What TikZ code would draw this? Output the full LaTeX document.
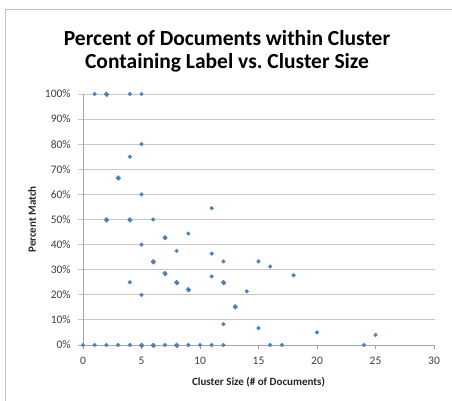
\documentclass[tikz,border=0pt]{standalone}
\usepackage{fontspec}
\setmainfont{Carlito}
\usetikzlibrary{shapes.geometric,shadows}
\definecolor{ptblue}{HTML}{4F81BD}
\definecolor{gridgray}{RGB}{200,200,200}
\definecolor{axisgray}{RGB}{165,165,165}
\definecolor{framegray}{RGB}{195,195,195}
\definecolor{labelgray}{RGB}{64,64,64}
\begin{document}
\begin{tikzpicture}[x=1pt,y=-1pt,
    dot/.style={diamond, fill=ptblue, inner sep=0pt, minimum size=4.6pt},
    dotm/.style={dot, minimum size=5pt, drop shadow={shadow xshift=0.3pt, shadow yshift=-0.7pt, fill=black!70, opacity=0.8}},
    ticklabel/.style={font=\fontsize{11.5}{13}\selectfont, text=labelgray, inner sep=1pt},
    axislabel/.style={font=\bfseries\fontsize{11}{13}\selectfont, text=black!85},
    charttitle/.style={font=\bfseries\fontsize{21.5}{23}\selectfont, align=center}]
  \useasboundingbox (0,0) rectangle (452,401);
  \fill[white] (0,0) rectangle (452,401);
  % Frame
  \draw[framegray, line width=1.3pt] (452,9.5) -- (5.5,9.5) -- (5.5,401);
  % Title and axis labels
  \node[charttitle] (title) at (227,51.5) {Percent of Documents within Cluster\\Containing Label vs.\ Cluster Size};
  \node[axislabel, rotate=90] (ylab) at (32,219.5) {Percent Match};
  \node[axislabel] (xlab) at (258.5,382) {Cluster Size (\# of Documents)};
  % Plot area
  \begin{scope}[shift={(83,345)}, x=11.7pt, y=2.51pt]
    \foreach \p in {10,20,...,100}
      \draw[gridgray, line width=1pt] (-0.43,\p) -- (30.1,\p);
    \foreach \p in {0,10,...,100}
      \node[ticklabel, anchor=east] (ytick\p) at (-0.95,\p) {\p\%};
    \draw[axisgray, line width=0.9pt] (0,0) -- (0,100);
    \draw[axisgray, line width=0.9pt] (-0.43,0) -- (30,0);
    \foreach \t in {0,5,...,30} {
      \draw[axisgray, line width=0.9pt] (\t,0) -- (\t,-1.4);
      \node[ticklabel] (xtick\t) at (\t,-6.4) {\t};
    }
    % Single points
    \foreach \x/\y [count=\i] in {1/100,4/100,5/100,5/80,4/75,5/60,6/50,11/54.5,9/44.4,
        5/40,8/37.5,11/36.4,12/33.3,15/33.3,16/31.25,18/27.8,11/27.3,4/25,14/21.4,
        5/20,12/8.3,15/6.7,20/5,25/4,0/0,1/0,2/0,3/0,4/0,7/0,9/0,10/0,11/0,12/0,
        16/0,17/0,24/0}
      \node[dot] (p\i) at (\x,\y) {};
    % Overlapping points
    \foreach \x/\y [count=\i] in {2/100,3/66.7,2/50,4/50,7/42.9,6/33.3,7/28.6,8/25,
        12/25,9/22.2,13/15.4,5/0,6/0,8/0}
      \node[dotm] (m\i) at (\x,\y) {};
  \end{scope}
\end{tikzpicture}
\end{document}
